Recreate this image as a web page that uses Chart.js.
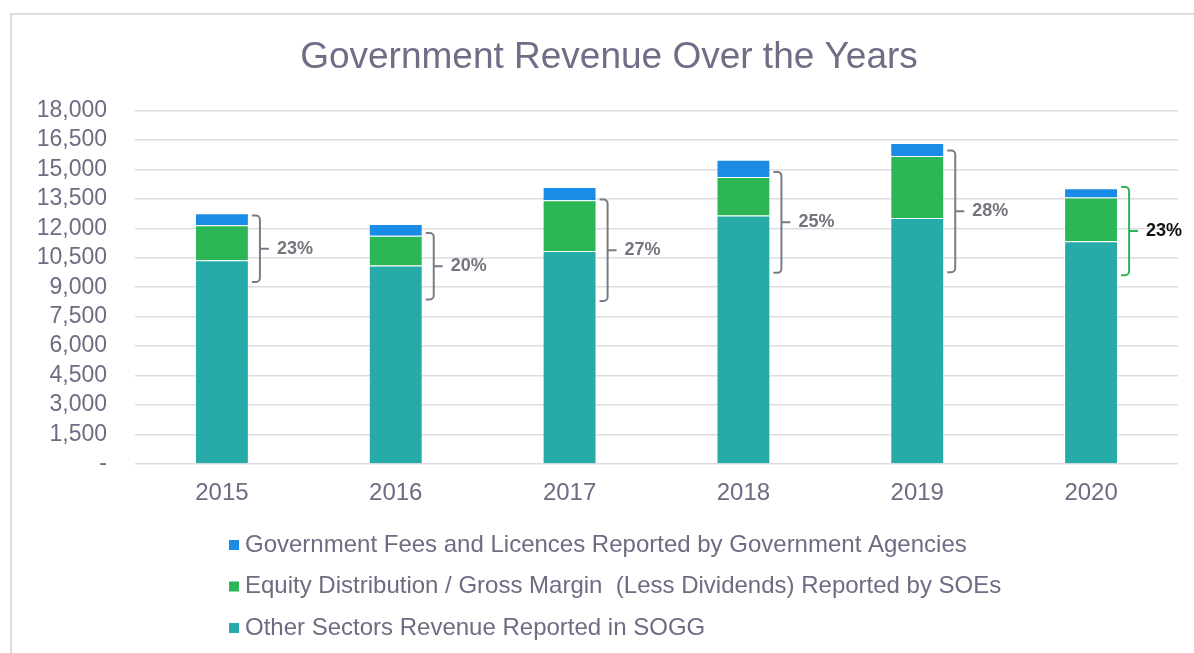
<!DOCTYPE html>
<html>
<head>
<meta charset="utf-8">
<script src="https://cdn.jsdelivr.net/npm/chart.js@4.4.0/dist/chart.umd.min.js"></script>
<style>
  html, body { margin: 0; padding: 0; background: #fff; overflow: hidden; }
  .frame { position: absolute; left: 10px; top: 13px; width: 1200px; height: 660px; border: 2px solid #dcdce2; }
  canvas { display: block; }
</style>
</head>
<body>
<div class="frame"><canvas id="revenueChart" width="1194" height="638"></canvas></div>
<script>
const years = ["2015", "2016", "2017", "2018", "2019", "2020"];
const otherSectors = [10370, 10100, 10845, 12645, 12520, 11340];
const equityDistribution = [1780, 1525, 2575, 1960, 3155, 2220];
const govFees = [610, 590, 675, 885, 660, 475];

// bracket annotations right of each bar
const bracketLabels = ["23%", "20%", "27%", "25%", "28%", "23%"];
const bracketTop = [12650, 11760, 13460, 14870, 15960, 14100];
const bracketBottom = [9270, 8370, 8300, 9730, 9760, 9610];

const textColor = "#6c6c82";
const fontFamily = "'Liberation Sans', Arial, sans-serif";

const bracketPlugin = {
  id: "brackets",
  afterDatasetsDraw(chart) {
    const ctx = chart.ctx;
    const xs = chart.scales.x;
    const ys = chart.scales.y;
    ctx.save();
    years.forEach((yr, i) => {
      const cx = xs.getPixelForValue(i);
      const top = ys.getPixelForValue(bracketTop[i]);
      const bot = ys.getPixelForValue(bracketBottom[i]);
      const mid = (top + bot) / 2;
      const last = i === years.length - 1;
      const lx = cx + 30, vx = cx + 38, tx = cx + 47;
      ctx.strokeStyle = last ? "#2db655" : "#7b7b86";
      ctx.lineWidth = 2;
      ctx.beginPath();
      ctx.moveTo(lx, top);
      ctx.arcTo(vx, top, vx, bot, 4);
      ctx.arcTo(vx, bot, lx, bot, 4);
      ctx.lineTo(lx, bot);
      ctx.moveTo(vx, mid);
      ctx.lineTo(tx, mid);
      ctx.stroke();
      ctx.fillStyle = last ? "#111111" : "#74747e";
      ctx.font = "bold 18px " + fontFamily;
      ctx.textBaseline = "middle";
      ctx.textAlign = "left";
      ctx.fillText(bracketLabels[i], cx + 55, mid);
    });
    ctx.restore();
  }
};

const legendPlugin = {
  id: "sideLegend",
  afterDraw(chart) {
    const ctx = chart.ctx;
    const items = chart.data.datasets.slice().reverse();
    ctx.save();
    items.forEach((ds, k) => {
      const yc = 530 + k * 41.5;
      ctx.fillStyle = ds.backgroundColor;
      ctx.fillRect(217, yc - 5, 10, 10);
      ctx.fillStyle = textColor;
      ctx.font = "24px " + fontFamily;
      ctx.textBaseline = "middle";
      ctx.textAlign = "left";
      ctx.fillText(ds.label, 233, yc);
    });
    ctx.restore();
  }
};

const ctx = document.getElementById("revenueChart");
const myChart = new Chart(ctx, {
  type: "bar",
  data: {
    labels: years,
    datasets: [
      {
        label: "Other Sectors Revenue Reported in SOGG",
        data: otherSectors,
        backgroundColor: "#27aba9",
        borderColor: "rgba(255,255,255,0.35)",
        borderWidth: 1,
      },
      {
        label: "Equity Distribution / Gross Margin  (Less Dividends) Reported by SOEs",
        data: equityDistribution,
        backgroundColor: "#2db655",
        borderColor: "rgba(255,255,255,0.35)",
        borderWidth: 1,
      },
      {
        label: "Government Fees and Licences Reported by Government Agencies",
        data: govFees,
        backgroundColor: "#1a8ce6",
        borderColor: "rgba(255,255,255,0.35)",
        borderWidth: 1,
      },
    ],
  },
  options: {
    responsive: false,
    animation: false,
    layout: { padding: { top: 0, right: 0, bottom: 145, left: 0 } },
    datasets: { bar: { categoryPercentage: 1, barPercentage: 0.31 } },
    plugins: {
      legend: { display: false },
      tooltip: { enabled: false },
      title: {
        display: true,
        text: "Government Revenue Over the Years",
        color: "#6e6e86",
        font: { family: fontFamily, size: 37, weight: "normal" },
        padding: { top: 21, bottom: 30 },
      },
    },
    scales: {
      x: {
        stacked: true,
        grid: { display: false, drawTicks: false },
        border: { display: false },
        ticks: { color: textColor, font: { family: fontFamily, size: 24 }, padding: 15 },
        afterFit(scale) { scale.height = 44; },
      },
      y: {
        stacked: true,
        min: 0,
        max: 18000,
        grid: { color: "#dcdce2", lineWidth: 1.5, drawTicks: false },
        border: { display: false },
        ticks: {
          stepSize: 1500,
          autoSkip: false,
          color: textColor,
          font: { family: fontFamily, size: 23 },
          padding: 28,
          callback: (v) => (v === 0 ? "-" : v.toLocaleString("en-US")),
        },
        afterFit(scale) { scale.width = 123; },
      },
      // empty right axis, only to keep space on the right
      yRight: {
        position: "right",
        min: 0,
        max: 18000,
        grid: { display: false, drawTicks: false },
        border: { display: false },
        ticks: { display: false },
        afterFit(scale) { scale.width = 28; },
      },
    },
  },
  plugins: [bracketPlugin, legendPlugin],
});
</script>
</body>
</html>
